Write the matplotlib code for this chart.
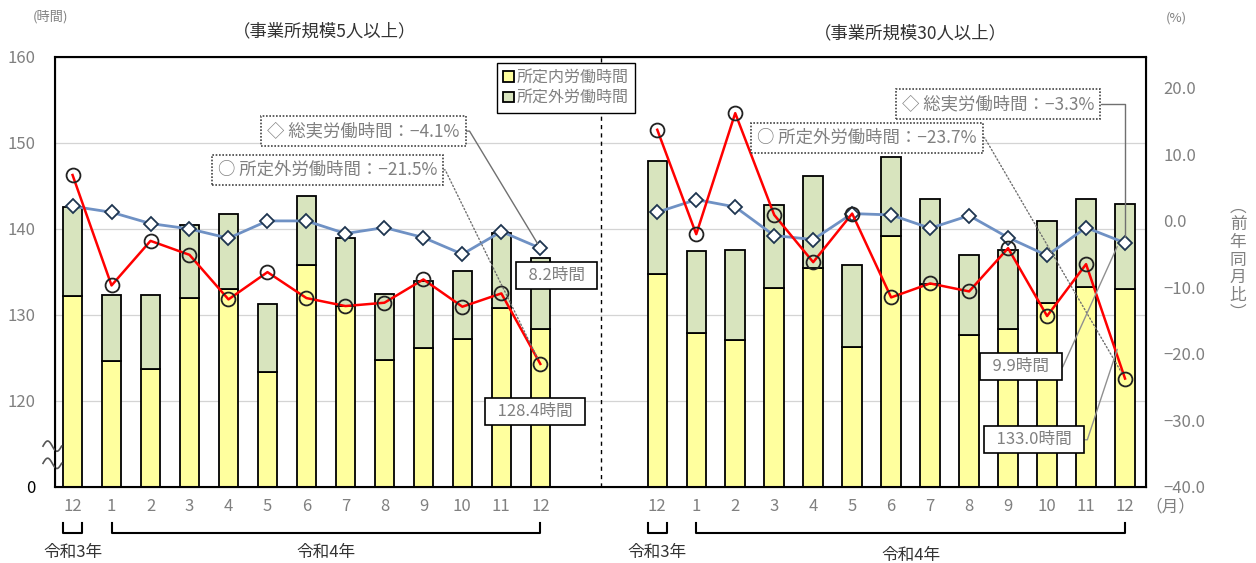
import matplotlib
matplotlib.use("Agg")
import matplotlib.pyplot as plt
from matplotlib.patches import Patch
import matplotlib.transforms as mtransforms
import numpy as np

plt.rcParams['font.family'] = ['Noto Sans CJK JP', 'DejaVu Sans']

months = ["12", "1", "2", "3", "4", "5", "6", "7", "8", "9", "10", "11", "12"]

# 事業所規模5人以上 (時間)
left_sched = [132.2, 124.6, 123.7, 132.0, 133.0, 123.4, 135.8, 131.0, 124.8, 126.1, 127.2, 130.8, 128.4]
left_over = [10.3, 7.7, 8.6, 8.5, 8.7, 7.9, 8.0, 8.0, 7.6, 7.8, 7.9, 8.7, 8.2]
# 前年同月比 (%)
left_total_pct = [2.2, 1.3, -0.4, -1.2, -2.6, 0.0, 0.0, -1.9, -1.0, -2.5, -5.0, -1.6, -4.1]
left_over_pct = [6.9, -9.7, -3.0, -5.1, -11.8, -7.7, -11.6, -12.8, -12.3, -8.8, -12.9, -10.9, -21.5]

# 事業所規模30人以上
right_sched = [134.8, 127.9, 127.1, 133.1, 135.4, 126.3, 139.2, 133.6, 127.7, 128.4, 131.4, 133.2, 133.0]
right_over = [13.1, 9.5, 10.5, 9.7, 10.7, 9.5, 9.2, 9.9, 9.3, 9.2, 9.5, 10.3, 9.9]
right_total_pct = [1.3, 3.2, 2.1, -2.2, -2.8, 1.1, 0.9, -1.1, 0.8, -2.5, -5.2, -1.0, -3.3]
right_over_pct = [13.7, -2.0, 16.2, 0.9, -6.2, 1.1, -11.5, -9.4, -10.6, -4.1, -14.3, -6.5, -23.7]

BREAK = 110  # axis is cut: this level is shown as 0
YELLOW = "#FFFF9E"
SAGE = "#D8E4BE"
GRAY = "#808080"

xl = np.arange(13)
xr = np.arange(13) + 15

fig = plt.figure(figsize=(12.56, 5.63), dpi=100)
ax = fig.add_axes([0.0438, 0.135, 0.869, 0.764])
ax2 = ax.twinx()

for xs, sched, over in [(xl, left_sched, left_over), (xr, right_sched, right_over)]:
    sched = np.array(sched)
    over = np.array(over)
    ax.bar(xs, sched - BREAK, bottom=BREAK, width=0.5, color=YELLOW, edgecolor="black", linewidth=1.3, zorder=2)
    ax.bar(xs, over, bottom=sched, width=0.5, color=SAGE, edgecolor="black", linewidth=1.3, zorder=2)

ax.set_xlim(-0.45, 27.55)
ax.set_ylim(BREAK, 160)
ax.set_yticks([110, 120, 130, 140, 150, 160])
ax.set_yticklabels(["0", "120", "130", "140", "150", "160"])
ax.tick_params(axis="y", length=0, pad=14, labelsize=12, labelcolor=GRAY)
ax.get_yticklabels()[0].set_color("black")
ax.set_xticks(np.concatenate([xl, xr]))
ax.set_xticklabels(months + months)
ax.tick_params(axis="x", length=0, pad=8, labelsize=12, labelcolor=GRAY)
ax.yaxis.grid(True, color="#d4d4d4", linewidth=0.9)
ax.set_axisbelow(True)
ax.axvline(13.55, color="black", linestyle=(0, (3, 3)), linewidth=1, zorder=1)
for s in ax.spines.values():
    s.set_linewidth(1.5)

# break marks on left spine
t = np.linspace(0, 1, 30)
for y0 in [0.095, 0.055]:
    ax.plot(-0.011 + 0.017 * t, y0 + 0.012 * np.sin(2 * np.pi * t), color="#555555",
            linewidth=1.2, transform=ax.transAxes, clip_on=False, zorder=6)

ax2.plot(xl, left_total_pct, color="#6F91C4", linewidth=2, marker="D", markersize=7,
         markerfacecolor="white", markeredgecolor="#1E3550", markeredgewidth=1.3, zorder=4)
ax2.plot(xr, right_total_pct, color="#6F91C4", linewidth=2, marker="D", markersize=7,
         markerfacecolor="white", markeredgecolor="#1E3550", markeredgewidth=1.3, zorder=4)
ax2.plot(xl, left_over_pct, color="#FF0000", linewidth=1.8, marker="o", markersize=10,
         markerfacecolor="none", markeredgecolor="#222222", markeredgewidth=1.3, zorder=5)
ax2.plot(xr, right_over_pct, color="#FF0000", linewidth=1.8, marker="o", markersize=10,
         markerfacecolor="none", markeredgecolor="#222222", markeredgewidth=1.3, zorder=5)

ax2.set_ylim(-40, 24.66)
ax2.set_yticks(np.arange(-40, 21, 10))
ax2.set_yticklabels([f"{v:.1f}".replace("-", "\u2212") for v in np.arange(-40, 21, 10)])
ax2.tick_params(axis="y", length=0, pad=12, labelsize=12, labelcolor=GRAY)

# legend
handles = [Patch(facecolor=YELLOW, edgecolor="black", linewidth=1.3, label="所定内労働時間"),
           Patch(facecolor=SAGE, edgecolor="black", linewidth=1.3, label="所定外労働時間")]
leg = ax.legend(handles=handles, loc="upper left", bbox_to_anchor=(0.405, 0.986), borderaxespad=0,
                fontsize=11.5, handlelength=0.65, handleheight=0.65, handletextpad=0.15,
                labelspacing=0.2, borderpad=0.4, fancybox=False, framealpha=1)
leg.get_frame().set_edgecolor("black")
leg.get_frame().set_linewidth(1)
leg.set_zorder(10)
for tx in leg.get_texts():
    tx.set_color(GRAY)

# annotations
dotbox = dict(boxstyle="square,pad=0.35", facecolor="white", edgecolor="#444444", linestyle=(0, (1, 1)), linewidth=1.2)
solidbox = dict(boxstyle="square,pad=0.3", facecolor="white", edgecolor="black", linewidth=1.2)

ax2.annotate("◇ 総実労働時間：\u22124.1%", xy=(xl[-1], left_total_pct[-1]), xytext=(7.46, 13.5),
             ha="center", va="center", fontsize=12.5, color=GRAY, bbox=dotbox, zorder=8,
             arrowprops=dict(arrowstyle="-", color="#707070", lw=1, relpos=(1, 0.5), shrinkA=0, shrinkB=4,
                             connectionstyle="arc,angleA=0,armA=10,angleB=0,armB=0,rad=0"))
ax2.annotate("○ 所定外労働時間：\u221221.5%", xy=(xl[-1], left_over_pct[-1]), xytext=(6.54, 7.67),
             ha="center", va="center", fontsize=12.5, color=GRAY, bbox=dotbox, zorder=8,
             arrowprops=dict(arrowstyle="-", color="#707070", lw=1, linestyle=":", relpos=(1, 0.5), shrinkA=0, shrinkB=5,
                             connectionstyle="arc,angleA=0,armA=8,angleB=0,armB=0,rad=0"))
ax2.annotate("◇ 総実労働時間：\u22123.3%", xy=(xr[-1], right_total_pct[-1]), xytext=(23.74, 17.6),
             ha="center", va="center", fontsize=12.5, color=GRAY, bbox=dotbox, zorder=8,
             arrowprops=dict(arrowstyle="-", color="#707070", lw=1, relpos=(1, 0.5), shrinkA=0, shrinkB=4,
                             connectionstyle="angle,angleA=0,angleB=90,rad=0"))
ax2.annotate("○ 所定外労働時間：\u221223.7%", xy=(xr[-1], right_over_pct[-1]), xytext=(20.38, 12.48),
             ha="center", va="center", fontsize=12.5, color=GRAY, bbox=dotbox, zorder=8,
             arrowprops=dict(arrowstyle="-", color="#707070", lw=1, linestyle=":", relpos=(1, 0.5), shrinkA=0, shrinkB=5,
                             connectionstyle="arc,angleA=0,armA=8,angleB=0,armB=0,rad=0"))

ax2.text(12.41, -8.27, f"  {left_over[-1]}時間  ", ha="center", va="center", fontsize=12, color=GRAY, bbox=solidbox, zorder=8)
ax2.text(11.87, -28.7, f"  {left_sched[-1]}時間  ", ha="center", va="center", fontsize=12, color=GRAY, bbox=solidbox, zorder=8)
ax2.annotate(f"  {right_over[-1]}時間  ", xy=(26.8, right_sched[-1] + right_over[-1] / 2), xycoords=ax.transData,
             xytext=(24.33, -21.95), textcoords=ax2.transData, ha="center", va="center", fontsize=12,
             color=GRAY, bbox=solidbox, zorder=8,
             arrowprops=dict(arrowstyle="-", color="#909090", lw=1, relpos=(1, 0.5), shrinkA=0, shrinkB=0,
                             connectionstyle="arc,angleA=0,armA=6,angleB=0,armB=0,rad=0"))
ax2.annotate(f"  {right_sched[-1]}時間  ", xy=(26.8, 126), xycoords=ax.transData,
             xytext=(24.67, -32.9), textcoords=ax2.transData, ha="center", va="center", fontsize=12,
             color=GRAY, bbox=solidbox, zorder=8,
             arrowprops=dict(arrowstyle="-", color="#909090", lw=1, relpos=(1, 0.5), shrinkA=0, shrinkB=0,
                             connectionstyle="arc,angleA=0,armA=8,angleB=0,armB=0,rad=0"))

# titles and axis captions
fig.text(325 / 1256, 1 - 31 / 563, "（事業所規模5人以上）", ha="center", va="center", fontsize=12.5, color="#333333")
fig.text(910 / 1256, 1 - 33 / 563, "（事業所規模30人以上）", ha="center", va="center", fontsize=12.5, color="#333333")
fig.text(50 / 1256, 1 - 17 / 563, "(時間)", ha="center", va="center", fontsize=9.5, color=GRAY)
fig.text(1176 / 1256, 1 - 18 / 563, "(%)", ha="center", va="center", fontsize=9.5, color=GRAY)
fig.text(1238 / 1256, 1 - 260 / 563, "︵\n前\n年\n同\n月\n比\n︶", ha="center", va="center",
         fontsize=12, color=GRAY, linespacing=1.05)

# year brackets under the axis
tr = mtransforms.blended_transform_factory(ax.transData, ax.transAxes)
ax.text(28.15, -0.047, "（月）", transform=tr, ha="center", va="center", fontsize=12, color=GRAY)
for x0, x1, lab, ly in [(xl[0] - 0.25, xl[0] + 0.25, "令和3年", -0.153),
                        (xl[1], xl[-1], "令和4年", -0.153),
                        (xr[0] - 0.25, xr[0] + 0.25, "令和3年", -0.153),
                        (xr[1], xr[-1], "令和4年", -0.16)]:
    ax.plot([x0, x0, x1, x1], [-0.084, -0.107, -0.107, -0.084], color="black", linewidth=1.5,
            transform=tr, clip_on=False)
    ax.text((x0 + x1) / 2, ly, lab, transform=tr, ha="center", va="center", fontsize=12, color="#333333")

fig.savefig("out.png", dpi=100)
